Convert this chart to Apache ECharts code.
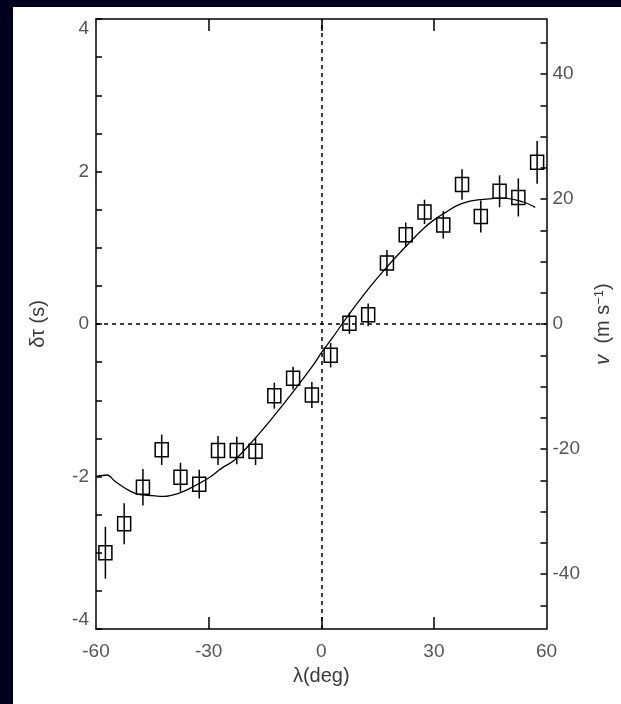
<!DOCTYPE html>
<html>
<head>
<meta charset="utf-8">
<script src="https://cdn.jsdelivr.net/npm/echarts@6/dist/echarts.min.js"></script>
<style>
  html, body { margin: 0; padding: 0; width: 621px; height: 704px; background: #00001e; overflow: hidden; }
  #chart { position: absolute; left: 13px; top: 7px; width: 608px; height: 697px; background: #ffffff; }
</style>
</head>
<body>
<div id="chart"></div>
<script>
// Measured travel-time shifts versus latitude, with 1-sigma errors
const lambdaDeg = [-57.5, -52.5, -47.5, -42.5, -37.5, -32.5, -27.5, -22.5, -17.5, -12.5, -7.5, -2.5,
                   2.5, 7.5, 12.5, 17.5, 22.5, 27.5, 32.5, 37.5, 42.5, 47.5, 52.5, 57.5];
const delayS = [-3.00, -2.62, -2.14, -1.65, -2.01, -2.10, -1.66, -1.66, -1.67, -0.94, -0.71, -0.93,
                -0.41, 0.01, 0.12, 0.80, 1.17, 1.47, 1.30, 1.83, 1.41, 1.74, 1.66, 2.12];
const delayErr = [0.34, 0.27, 0.24, 0.20, 0.19, 0.19, 0.19, 0.18, 0.18, 0.17, 0.15, 0.17,
                  0.16, 0.14, 0.15, 0.17, 0.16, 0.16, 0.18, 0.20, 0.21, 0.21, 0.25, 0.28];

// Model curve
const fitLambda = [-60, -57, -55, -52, -49, -45, -42, -38, -34, -30, -26.5, -23, -18, -13, -7.5, -2,
                   0, 3, 7, 12.4, 16.8, 22, 27.4, 31, 33, 36, 39.6, 42.3, 48.5, 53.8, 57];
const fitDelay = [-2.00, -1.98, -2.06, -2.16, -2.23, -2.25, -2.26, -2.22, -2.13, -2.02, -1.89, -1.78,
                  -1.52, -1.23, -0.89, -0.53, -0.38, -0.18, 0.10, 0.45, 0.71, 0.99, 1.26, 1.40,
                  1.46, 1.55, 1.61, 1.63, 1.65, 1.60, 1.53];

// Axis ticks
const lambdaTicks = [-30, 0, 30];
const lambdaLabels = [-60, -30, 0, 30, 60];
const delayLabels = [-4, -2, 0, 2, 4];
const velocityTicks = [-45, -40, -35, -30, -25, -20, -15, -10, -5, 0, 5, 10, 15, 20, 25, 30, 35, 40, 45];
const velocityLabels = [-40, -20, 0, 20, 40];

const ink = '#000';
const labelColor = '#555';
const nameColor = '#3a3a3a';
const font = 'Liberation Sans, Arial, Helvetica, sans-serif';

const chart = echarts.init(document.getElementById('chart'));

const points = lambdaDeg.map((x, i) => [x, delayS[i], delayErr[i]]);
const curve = fitLambda.map((x, i) => [x, fitDelay[i]]);

const frameLine = { onZero: false, lineStyle: { color: ink, width: 1.5 } };

chart.setOption({
  animation: false,
  textStyle: { fontFamily: font },
  grid: { left: 83, top: 12, width: 454, height: 610 },
  xAxis: [
    {
      type: 'value', position: 'bottom', min: -60, max: 60,
      axisLine: frameLine,
      axisTick: { inside: true, length: 12, lineStyle: { color: ink, width: 1.5 }, customValues: lambdaTicks },
      axisLabel: { customValues: lambdaLabels, color: labelColor, fontSize: 19, margin: 13, fontFamily: font },
      splitLine: { show: false },
      name: 'λ(deg)', nameLocation: 'middle', nameGap: 37,
      nameTextStyle: { color: nameColor, fontSize: 20, fontFamily: font }
    },
    {
      type: 'value', position: 'top', min: -60, max: 60,
      axisLine: frameLine,
      axisTick: { inside: true, length: 12, lineStyle: { color: ink, width: 1.5 }, customValues: lambdaTicks },
      axisLabel: { show: false },
      splitLine: { show: false }
    }
  ],
  yAxis: [
    {
      type: 'value', position: 'left', min: -4, max: 4, interval: 0.5,
      axisLine: frameLine,
      axisTick: { inside: true, length: 6, lineStyle: { color: ink, width: 1.5 } },
      axisLabel: {
        customValues: delayLabels, color: labelColor, fontSize: 19, margin: 7, fontFamily: font,
        verticalAlignMinLabel: 'bottom', verticalAlignMaxLabel: 'top'
      },
      splitLine: { show: false },
      name: 'δτ (s)', nameLocation: 'middle', nameRotate: 90, nameGap: 48,
      nameTextStyle: { color: nameColor, fontSize: 20, fontFamily: font }
    },
    {
      type: 'value', position: 'right', min: -48.8, max: 48.8,
      axisLine: frameLine,
      axisTick: { inside: true, length: 6, lineStyle: { color: ink, width: 1.5 }, customValues: velocityTicks },
      axisLabel: { customValues: velocityLabels, color: labelColor, fontSize: 19, margin: 6, fontFamily: font },
      splitLine: { show: false },
      name: '{it|v}  (m s{sup|−1})', nameLocation: 'middle', nameRotate: 90, nameGap: 46,
      nameTextStyle: {
        color: nameColor, fontSize: 20, fontFamily: font,
        rich: {
          it: { fontStyle: 'italic', fontSize: 20, color: nameColor, fontFamily: font },
          sup: { fontSize: 13, verticalAlign: 'top', padding: [0, 0, 8, 0], color: nameColor, fontFamily: font }
        }
      }
    }
  ],
  series: [
    {
      name: 'model', type: 'line', xAxisIndex: 0, yAxisIndex: 0,
      data: curve, smooth: 0.35, symbol: 'none',
      lineStyle: { color: ink, width: 1.3 },
      markLine: {
        silent: true, symbol: 'none', label: { show: false },
        lineStyle: { color: ink, width: 1.5, type: [4, 4] },
        data: [{ xAxis: 0 }, { yAxis: 0 }]
      },
      z: 2
    },
    {
      name: 'measured', type: 'custom', xAxisIndex: 0, yAxisIndex: 0,
      data: points,
      renderItem: function (params, api) {
        const c = api.coord([api.value(0), api.value(1)]);
        const hi = api.coord([api.value(0), api.value(1) + api.value(2)]);
        const lo = api.coord([api.value(0), api.value(1) - api.value(2)]);
        return {
          type: 'group',
          children: [
            { type: 'rect', shape: { x: c[0] - 6.5, y: c[1] - 7, width: 13, height: 14 },
              style: { fill: 'rgba(255,255,255,0)', stroke: ink, lineWidth: 1.5 } },
            { type: 'line', shape: { x1: c[0], y1: hi[1], x2: c[0], y2: lo[1] },
              style: { stroke: ink, lineWidth: 1.5 } }
          ]
        };
      },
      z: 3
    }
  ]
});
</script>
</body>
</html>
